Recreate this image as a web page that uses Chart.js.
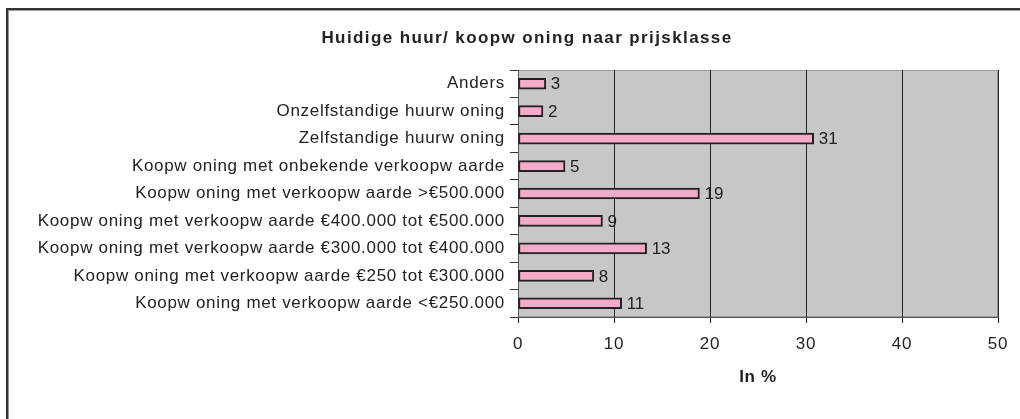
<!DOCTYPE html>
<html>
<head>
<meta charset="utf-8">
<script src="https://cdn.jsdelivr.net/npm/chart.js@4.4.1/dist/chart.umd.min.js"></script>
<style>
  html, body { margin: 0; padding: 0; background: #fff; }
  #wrap { position: relative; width: 1020px; height: 419px; overflow: hidden; }
  #frame { position: absolute; left: 6px; top: 8px; width: 1100px; height: 500px;
           border-left: 2px solid #333; border-top: 2px solid #333; box-shadow: inset 1px 1px 0 #999; }
  #c { position: absolute; left: 0; top: 0; }
</style>
</head>
<body>
<div id="wrap">
  <div id="frame"></div>
  <canvas id="c" width="1020" height="419"></canvas>
</div>
<script>
const chartTitle = 'Huidige huur/ koopw oning naar prijsklasse';
const axisTitle = 'In %';
const categories = [
  'Anders',
  'Onzelfstandige huurw oning',
  'Zelfstandige huurw oning',
  'Koopw oning met onbekende verkoopw aarde',
  'Koopw oning met verkoopw aarde >€500.000',
  'Koopw oning met verkoopw aarde €400.000 tot €500.000',
  'Koopw oning met verkoopw aarde €300.000 tot €400.000',
  'Koopw oning met verkoopw aarde €250 tot €300.000',
  'Koopw oning met verkoopw aarde <€250.000'
];
const values = [2.9, 2.6, 30.8, 4.9, 18.9, 8.8, 13.4, 7.9, 10.8];
const valueLabels = ['3', '2', '31', '5', '19', '9', '13', '8', '11'];
const xTicks = [0, 10, 20, 30, 40, 50];

const FONT = "'Liberation Sans', Arial, sans-serif";

const bgPlugin = {
  id: 'plotBg',
  beforeDraw(chart) {
    const a = chart.chartArea, ctx = chart.ctx;
    ctx.letterSpacing = '0.68px';
    ctx.save();
    ctx.fillStyle = '#c7c7c7';
    ctx.fillRect(a.left, a.top, a.right - a.left, a.bottom - a.top);
    ctx.strokeStyle = '#9a9a9a';
    ctx.lineWidth = 1;
    ctx.strokeRect(a.left + 0.5, a.top + 0.5, a.right - a.left - 1, a.bottom - a.top - 1);
    ctx.restore();
  },
  afterDatasetsDraw(chart) {
    const ctx = chart.ctx;
    const meta = chart.getDatasetMeta(0);
    ctx.save();
    ctx.letterSpacing = '0px';
    ctx.fillStyle = '#222';
    ctx.font = "17px " + FONT;
    ctx.textAlign = 'left';
    ctx.textBaseline = 'middle';
    meta.data.forEach((bar, i) => {
      ctx.fillText(valueLabels[i], bar.x + 5, bar.y + 1);
    });
    ctx.restore();
  },
  afterDraw(chart) {
    const ctx = chart.ctx;
    ctx.save();
    ctx.letterSpacing = '1.4px';
    ctx.fillStyle = '#222';
    ctx.font = "bold 17px " + FONT;
    ctx.textAlign = 'center';
    ctx.textBaseline = 'middle';
    ctx.fillText(chartTitle, 527, 38);
    ctx.restore();
  }
};

new Chart(document.getElementById('c'), {
  type: 'bar',
  data: {
    labels: categories,
    datasets: [{
      data: values,
      backgroundColor: '#f4aac9',
      borderColor: '#222',
      borderWidth: 2,
      borderSkipped: false,
      barThickness: 11
    }]
  },
  options: {
    indexAxis: 'y',
    responsive: false,
    animation: false,
    devicePixelRatio: 1,
    layout: { padding: { top: 70, right: 22, bottom: 22, left: 0 } },
    plugins: { legend: { display: false }, tooltip: { enabled: false }, title: { display: false } },
    scales: {
      x: {
        min: 0, max: 50,
        afterBuildTicks(scale) { scale.ticks = xTicks.map(v => ({ value: v })); },
        afterFit(scale) { scale.height = 80; },
        grid: { color: '#222', lineWidth: 1, tickLength: 6, drawOnChartArea: true },
        border: { color: '#555', width: 1 },
        ticks: { color: '#222', font: { family: FONT, size: 17 }, padding: 11, maxRotation: 0 },
        title: { display: true, text: axisTitle, color: '#222', font: { family: FONT, size: 17, weight: 'bold' }, padding: { top: 0, bottom: 9 } }
      },
      y: {
        afterFit(scale) { scale.width = 518; },
        grid: { drawOnChartArea: false, color: '#333', tickLength: 8, offset: true },
        border: { color: '#555', width: 1 },
        ticks: { color: '#222', font: { family: FONT, size: 17 }, padding: 5, autoSkip: false }
      }
    }
  },
  plugins: [bgPlugin]
});
</script>
</body>
</html>
